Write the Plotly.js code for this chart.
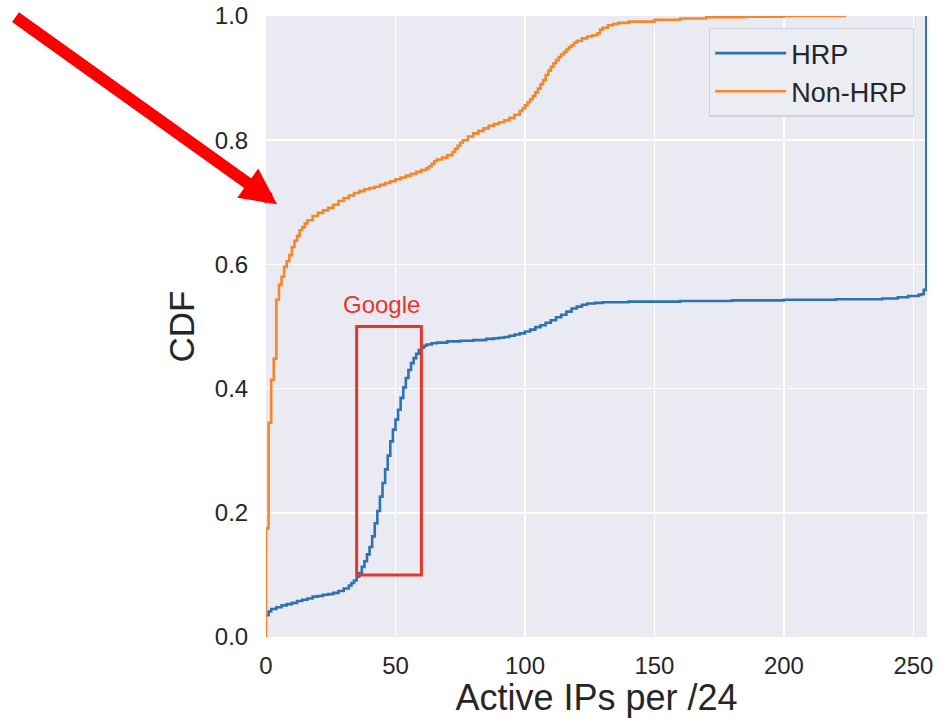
<!DOCTYPE html>
<html>
<head>
<meta charset="utf-8">
<script src="https://cdn.plot.ly/plotly-3.0.1.min.js"></script>
<style>html,body{margin:0;padding:0;background:#fff;}#chart{width:941px;height:718px;}</style>
</head>
<body>
<div id="chart"></div>
<script>
// HRP CDF (active IPs per /24)
const hrpX = [0,1,2,4,6,8,10,12,14,16,18,20,22,24,26,28,30,32,33,34,35,36,37,38,39,40,41,42,43,44,45,46,47,48,49,50,51,52,53,54,55,56,57,58,59,60,61,62,64,66,70,75,80,85,88,90,92,94,96,98,100,102,104,106,108,110,112,114,116,118,120,122,124,127,130,140,160,180,200,220,238,244,248,252,253,254,255,255];
const hrpY = [0.035,0.041,0.045,0.048,0.051,0.053,0.055,0.058,0.060,0.062,0.065,0.066,0.068,0.069,0.071,0.074,0.078,0.083,0.087,0.091,0.097,0.103,0.113,0.122,0.133,0.145,0.162,0.183,0.203,0.226,0.248,0.270,0.292,0.315,0.334,0.350,0.366,0.385,0.402,0.417,0.430,0.441,0.449,0.456,0.462,0.466,0.469,0.471,0.473,0.474,0.476,0.477,0.478,0.480,0.481,0.482,0.483,0.485,0.487,0.489,0.492,0.495,0.499,0.502,0.506,0.510,0.515,0.519,0.524,0.529,0.532,0.535,0.537,0.538,0.539,0.540,0.541,0.542,0.543,0.544,0.545,0.547,0.549,0.551,0.552,0.559,0.575,1.0];

// Non-HRP CDF
const nonX = [0,0,1,2,3,4,5,6,7,8,9,10,11,12,13,14,15,16,18,20,22,24,26,28,30,32,34,36,38,40,42,44,46,48,50,52,54,56,58,60,62,63,64,65,66,68,70,72,73,74,75,76,78,80,82,84,86,88,90,92,94,96,98,99,100,101,102,103,104,105,106,107,108,109,110,111,112,113,114,115,116,117,118,119,120,122,124,126,128,129,130,132,134,136,140,150,160,170,185,200,224];
const nonY = [0,0.175,0.345,0.414,0.448,0.543,0.567,0.580,0.596,0.605,0.615,0.628,0.638,0.646,0.655,0.660,0.666,0.671,0.678,0.683,0.687,0.691,0.696,0.702,0.707,0.711,0.715,0.718,0.721,0.723,0.725,0.728,0.731,0.734,0.737,0.740,0.743,0.746,0.749,0.752,0.755,0.758,0.762,0.766,0.769,0.772,0.776,0.781,0.786,0.791,0.796,0.800,0.806,0.811,0.815,0.819,0.823,0.826,0.829,0.832,0.836,0.841,0.847,0.851,0.856,0.861,0.866,0.871,0.877,0.883,0.890,0.897,0.905,0.912,0.918,0.924,0.929,0.934,0.938,0.942,0.946,0.950,0.953,0.957,0.960,0.964,0.967,0.969,0.972,0.978,0.981,0.985,0.987,0.989,0.991,0.994,0.996,0.998,0.999,1.0,1.0];

const seriesNames = ["HRP", "Non-HRP"];
const xTicks = [0, 50, 100, 150, 200, 250];
const yTicks = [0, 0.2, 0.4, 0.6, 0.8, 1.0];
const googleBox = {x0: 35, x1: 60, y0: 0.1, y1: 0.5};
const googleLabel = "Google";

const FONT = "Liberation Sans, Arial, Helvetica, sans-serif";
const TXT = "#262626";

const traces = [
  {x: hrpX, y: hrpY, name: seriesNames[0], mode: "lines", line: {shape: "hv", color: "#2f72b3", width: 2.6}},
  {x: nonX, y: nonY, name: seriesNames[1], mode: "lines", line: {shape: "hv", color: "#f5862a", width: 2.6}}
];

const layout = {
  width: 941, height: 718,
  margin: {l: 266, r: 14, t: 16, b: 81, pad: 0},
  paper_bgcolor: "#ffffff",
  plot_bgcolor: "#eaeaf2",
  font: {family: FONT, color: TXT, size: 24},
  showlegend: true,
  legend: {
    x: 0.67, y: 0.981, xanchor: "left", yanchor: "top",
    bgcolor: "rgba(236,236,243,0.92)", bordercolor: "#d2d2d8", borderwidth: 1.3,
    font: {family: FONT, size: 27, color: TXT},
    itemwidth: 71,
    traceorder: "normal"
  },
  xaxis: {
    range: [0, 255.25],
    tickvals: xTicks,
    ticktext: xTicks.map(String),
    showgrid: true, gridcolor: "#ffffff", gridwidth: 1.5,
    zeroline: false, showline: false,
    ticks: "outside", ticklen: 7, tickcolor: "rgba(0,0,0,0)",
    tickfont: {family: FONT, size: 24, color: TXT},
    title: {text: "Active IPs per /24", font: {family: FONT, size: 36, color: TXT}, standoff: 8}
  },
  yaxis: {
    range: [0, 1],
    tickvals: yTicks,
    ticktext: yTicks.map(v => v.toFixed(1)),
    showgrid: true, gridcolor: "#ffffff", gridwidth: 1.5,
    zeroline: false, showline: false,
    ticks: "outside", ticklen: 12, tickcolor: "rgba(0,0,0,0)",
    tickfont: {family: FONT, size: 24, color: TXT},
    title: {text: "CDF", font: {family: FONT, size: 35, color: TXT}, standoff: 9}
  },
  shapes: [
    {type: "rect", xref: "x", yref: "y", x0: googleBox.x0, x1: googleBox.x1, y0: googleBox.y0, y1: googleBox.y1,
     line: {color: "#e8352b", width: 3}, fillcolor: "rgba(0,0,0,0)"}
  ],
  annotations: [
    {xref: "x", yref: "y", x: 44.7, y: 0.535, text: googleLabel, showarrow: false,
     xanchor: "center", yanchor: "middle", font: {family: FONT, size: 24, color: "#e8352b"}},
    {xref: "x", yref: "y", x: 4.25, y: 0.697, text: "", showarrow: true,
     axref: "pixel", ayref: "pixel", ax: -263, ay: -188,
     arrowhead: 2, arrowsize: 0.6, arrowwidth: 12, arrowcolor: "#ff0000", standoff: 0, startstandoff: 0}
  ]
};

Plotly.newPlot("chart", traces, layout, {displayModeBar: false, staticPlot: true});
</script>
</body>
</html>
